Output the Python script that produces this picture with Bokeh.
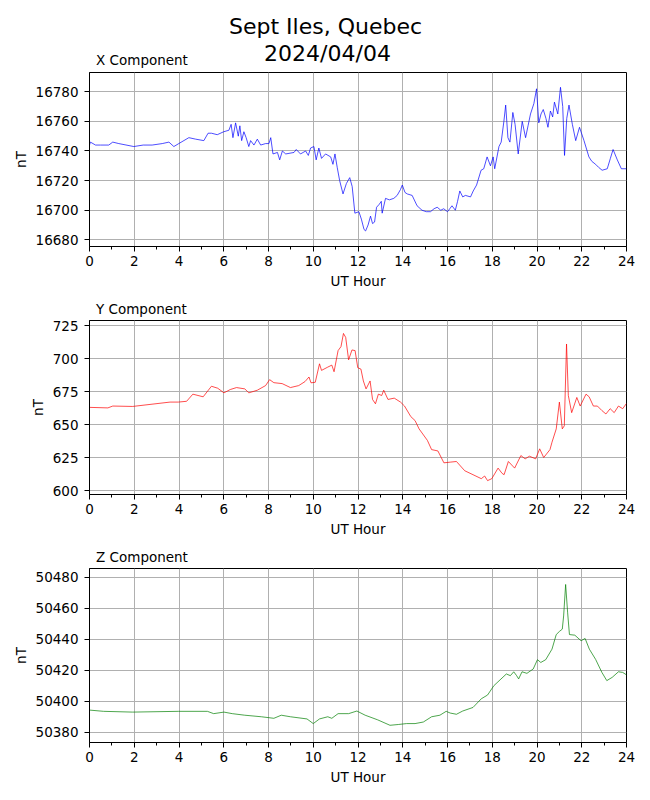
from bokeh.plotting import figure
from bokeh.models import Range1d, FixedTicker, Label, BasicTickFormatter
from bokeh.layouts import column
from bokeh.embed import file_html
from bokeh.resources import INLINE

STATION = "Sept Iles, Quebec"
DATE = "2024/04/04"
X_TICKS = [0, 2, 4, 6, 8, 10, 12, 14, 16, 18, 20, 22, 24]
X_MINOR = [1, 3, 5, 7, 9, 11, 13, 15, 17, 19, 21, 23]

# ---- X component (nT) ----
hours_x = [0.00, 0.04, 0.27, 0.49, 0.86, 1.04, 1.31, 1.98, 2.40, 2.80, 3.25, 3.55, 3.77, 3.99,
           4.44, 4.74, 5.11, 5.30, 5.45, 5.71, 6.00, 6.23, 6.33, 6.41, 6.53, 6.65, 6.72, 6.80,
           6.90, 7.00, 7.12, 7.20, 7.35, 7.50, 7.65, 7.87, 8.02, 8.10, 8.20, 8.40, 8.50, 8.62,
           8.77, 9.14, 9.24, 9.43, 9.66, 9.78, 9.88, 10.03, 10.13, 10.25, 10.37, 10.55, 10.78,
           10.88, 10.97, 11.07, 11.18, 11.33, 11.48, 11.63, 11.74, 11.86, 12.04, 12.15, 12.27,
           12.34, 12.45, 12.56, 12.65, 12.74, 12.83, 12.95, 13.04, 13.08, 13.23, 13.40, 13.60,
           13.75, 13.90, 13.98, 14.10, 14.20, 14.42, 14.64, 14.86, 15.05, 15.24, 15.40, 15.54,
           15.70, 15.83, 16.00, 16.10, 16.20, 16.35, 16.45, 16.55, 16.68, 16.80, 17.03, 17.15,
           17.30, 17.50, 17.62, 17.77, 17.92, 18.04, 18.11, 18.30, 18.40, 18.52, 18.60, 18.70,
           18.79, 18.92, 19.02, 19.16, 19.34, 19.49, 19.60, 19.71, 19.86, 19.98, 20.08, 20.18,
           20.28, 20.40, 20.49, 20.60, 20.70, 20.78, 20.93, 21.05, 21.15, 21.23, 21.33, 21.43,
           21.58, 21.73, 21.90, 22.10, 22.32, 22.45, 22.62, 22.75, 22.91, 23.14, 23.28, 23.40,
           23.59, 23.77, 24.00]
x_nt = [16744, 16746, 16744, 16744, 16744, 16746, 16745, 16743, 16744, 16744, 16745, 16746, 16743, 16745,
        16749, 16748, 16747, 16752, 16752, 16751, 16753, 16754, 16758, 16749, 16759, 16750, 16757, 16747,
        16753, 16749, 16743, 16747, 16744, 16748, 16744, 16745, 16745, 16749, 16738, 16739, 16734, 16740,
        16738, 16739, 16741, 16738, 16740, 16737, 16742, 16743, 16734, 16742, 16735, 16738, 16736,
        16731, 16738, 16729, 16720, 16711, 16718, 16722, 16716, 16698, 16699, 16694, 16687,
        16686, 16690, 16696, 16691, 16692, 16702, 16704, 16706, 16698, 16708, 16707, 16708,
        16710, 16714, 16717, 16712, 16711, 16710, 16703, 16700, 16699, 16699, 16701, 16702,
        16700, 16701, 16699, 16701, 16703, 16700, 16706, 16713, 16709, 16710, 16709, 16713,
        16717, 16727, 16728, 16736, 16730, 16736, 16728, 16743, 16746, 16760, 16771, 16749,
        16746, 16766, 16758, 16738, 16760, 16749, 16757, 16765, 16772, 16782, 16759, 16765,
        16768, 16762, 16756, 16767, 16763, 16773, 16765, 16783, 16770, 16737, 16762, 16771,
        16758, 16747, 16756, 16747, 16736, 16733, 16731, 16729, 16727, 16728, 16735, 16741,
        16734, 16728, 16728]

# ---- Y component (nT) ----
hours_y = [0.00, 0.82, 1.04, 1.93, 3.60, 3.97, 4.34, 4.62, 5.08, 5.45, 5.73, 6.01, 6.29, 6.57,
           6.94, 7.12, 7.50, 7.87, 8.05, 8.24, 8.61, 8.98, 9.35, 9.63, 9.81, 9.90, 10.09, 10.28,
           10.37, 10.65, 10.83, 10.93, 11.11, 11.24, 11.35, 11.45, 11.58, 11.73, 11.87, 11.99,
           12.13, 12.24, 12.36, 12.54, 12.65, 12.78, 12.91, 13.06, 13.15, 13.34, 13.62, 13.90,
           14.08, 14.36, 14.55, 14.73, 15.10, 15.29, 15.57, 15.84, 16.12, 16.40, 16.77, 17.14,
           17.51, 17.66, 17.79, 17.98, 18.26, 18.44, 18.53, 18.72, 19.00, 19.28, 19.47, 19.66,
           19.94, 20.12, 20.30, 20.58, 20.67, 20.86, 21.00, 21.13, 21.22, 21.32, 21.40, 21.55,
           21.78, 21.93, 22.19, 22.33, 22.52, 22.70, 22.90, 23.08, 23.27, 23.45, 23.64, 23.83,
           24.00]
y_nt = [663.0, 662.6, 664.0, 663.7, 667.0, 667.0, 667.6, 673.0, 671.0, 679.0, 677.5, 674.0, 676.5, 678.0,
        677.0, 674.0, 676.0, 679.5, 684.0, 681.7, 681.0, 678.0, 679.5, 682.5, 686.0, 681.6, 682.0, 696.0,
        691.0, 693.5, 695.0, 690.0, 706.0, 709.0, 719.0, 716.0, 699.0, 706.5, 706.0, 693.0,
        692.0, 683.0, 677.0, 683.0, 669.0, 665.7, 673.0, 672.0, 676.0, 669.0, 670.0, 667.0,
        664.0, 656.0, 653.0, 646.7, 638.0, 631.0, 630.0, 621.0, 621.5, 622.0, 615.0, 612.0,
        609.0, 611.0, 607.5, 609.0, 617.0, 613.0, 612.0, 622.0, 617.0, 626.5, 624.0, 626.0,
        624.0, 631.6, 625.0, 631.0, 636.6, 646.7, 667.0, 646.7, 649.0, 711.0, 672.0, 659.0,
        670.5, 664.0, 673.0, 671.0, 664.0, 664.0, 660.6, 658.0, 662.0, 659.0, 664.0, 662.0,
        666.0]

# ---- Z component (nT) ----
hours_z = [0.00, 0.63, 1.93, 3.97, 5.27, 5.55, 6.01, 6.38, 6.94, 7.68, 8.24, 8.57, 8.98, 9.72,
           10.00, 10.28, 10.65, 10.83, 11.11, 11.58, 11.95, 12.32, 12.88, 13.43, 13.80, 14.17,
           14.55, 14.92, 15.29, 15.66, 15.94, 16.12, 16.40, 16.68, 17.14, 17.51, 17.79, 18.07,
           18.35, 18.63, 18.81, 18.96, 19.09, 19.18, 19.33, 19.55, 19.83, 20.02, 20.17, 20.39,
           20.67, 20.86, 21.00, 21.13, 21.19, 21.28, 21.37, 21.45, 21.69, 21.97, 22.15, 22.34,
           22.62, 22.90, 23.12, 23.36, 23.64, 23.83, 24.00]
z_nt = [50394.3, 50393.5, 50393.0, 50393.5, 50393.5, 50392.0, 50393.0, 50392.0, 50391.0, 50390.0,
        50389.0, 50391.0, 50390.0, 50388.6, 50385.6, 50388.6, 50390.0, 50389.0, 50392.0, 50392.0,
        50393.7, 50391.0, 50388.0, 50384.5, 50385.0, 50385.6, 50385.6, 50386.6, 50390.0, 50391.0,
        50393.5, 50392.4, 50391.6, 50393.7, 50396.0, 50401.6, 50404.0, 50410.0, 50413.8, 50417.6,
        50416.5, 50419.0, 50416.5, 50414.4, 50419.0, 50418.0, 50420.8, 50426.8, 50425.0, 50426.8,
        50433.6, 50443.0, 50445.0, 50446.5, 50455.0, 50475.3, 50457.0, 50443.0, 50442.6, 50439.0,
        50440.5, 50433.6, 50427.0, 50418.6, 50413.3, 50415.4, 50419.0, 50418.6, 50417.0]

FONT = "DejaVu Sans"
W = 642
LEFT = 89
RIGHT = 16
FRAME_W = W - LEFT - RIGHT


def make_fig(hours, vals, color, yr, yticks, comp, height, top):
    kw = dict(title=comp) if comp else {}
    p = figure(width=W, height=height, x_range=Range1d(0, 24), y_range=Range1d(*yr),
               output_backend="svg", toolbar_location=None,
               min_border_left=LEFT, min_border_right=RIGHT, min_border_top=top,
               min_border_bottom=48, background_fill_color="white",
               border_fill_color="white", **kw)
    p.line(hours, vals, line_color=color, line_width=0.7)
    if comp:
        p.title.align = "left"
        p.title.offset = 6.5
        p.title.text_font = FONT
        p.title.text_font_size = "13.5px"
        p.title.text_font_style = "normal"
        p.title.text_color = "black"
        p.title.standoff = 8
    else:
        p.title = None
    p.xaxis.ticker = FixedTicker(ticks=X_TICKS, minor_ticks=X_MINOR)
    p.yaxis.ticker = FixedTicker(ticks=yticks)
    p.yaxis.formatter = BasicTickFormatter(use_scientific=False)
    p.xaxis.axis_label = "UT Hour"
    p.yaxis.axis_label = "nT"
    for ax in (p.xaxis, p.yaxis):
        ax.axis_line_color = "black"
        ax.major_tick_line_color = "black"
        ax.minor_tick_line_color = "black"
        ax.major_tick_out = 5
        ax.major_tick_in = 0
        ax.minor_tick_out = 3
        ax.minor_tick_in = 0
        ax.major_label_text_font = FONT
        ax.major_label_text_font_size = "13.5px"
        ax.major_label_text_color = "black"
        ax.axis_label_text_font = FONT
        ax.axis_label_text_font_size = "13.5px"
        ax.axis_label_text_font_style = "normal"
        ax.axis_label_text_color = "black"
        ax.axis_label_standoff = 4
    p.xaxis.major_label_standoff = 4
    p.yaxis.major_label_standoff = 6
    p.grid.grid_line_color = "#b0b0b0"
    p.grid.grid_line_width = 1
    p.outline_line_color = "black"
    p.outline_line_alpha = 1
    p.outline_line_width = 1
    return p


# header strip holding the figure title and the first panel's caption
# (its frame lines up with the panels below: x in pixels from the frame's left edge)
HEAD_H = 71
p0 = figure(width=W, height=HEAD_H, x_range=Range1d(0, FRAME_W), y_range=Range1d(0, HEAD_H),
            x_axis_type=None, y_axis_type=None,
            min_border_left=LEFT, min_border_right=RIGHT, min_border_top=0, min_border_bottom=0,
            output_backend="svg", toolbar_location=None,
            background_fill_color="white", border_fill_color="white")
p0.grid.visible = False
p0.outline_line_color = None
p0.add_layout(Label(x=325 - LEFT, y=HEAD_H - 26, text=STATION, text_font=FONT,
                    text_font_size="22px", text_color="black",
                    text_align="center", text_baseline="middle"))
p0.add_layout(Label(x=327 - LEFT, y=HEAD_H - 53, text=DATE, text_font=FONT,
                    text_font_size="22px", text_color="black",
                    text_align="center", text_baseline="middle"))
p0.add_layout(Label(x=6.5, y=HEAD_H - 59, text="X Component", text_font=FONT,
                    text_font_size="13.5px", text_color="black",
                    text_align="left", text_baseline="middle"))

p1 = make_fig(hours_x, x_nt, "blue", (16675.5, 16793.0),
              [16680, 16700, 16720, 16740, 16760, 16780], None, 223, 1)
p2 = make_fig(hours_y, y_nt, "red", (597.0, 728.8),
              [600, 625, 650, 675, 700, 725], "Y Component", 248, 26)
p3 = make_fig(hours_z, z_nt, "green", (50373.4, 50485.6),
              [50380, 50400, 50420, 50440, 50460, 50480], "Z Component", 248, 25)

layout = column(p0, p1, p2, p3, spacing=0)
open("out.html", "w").write(file_html(layout, INLINE))
